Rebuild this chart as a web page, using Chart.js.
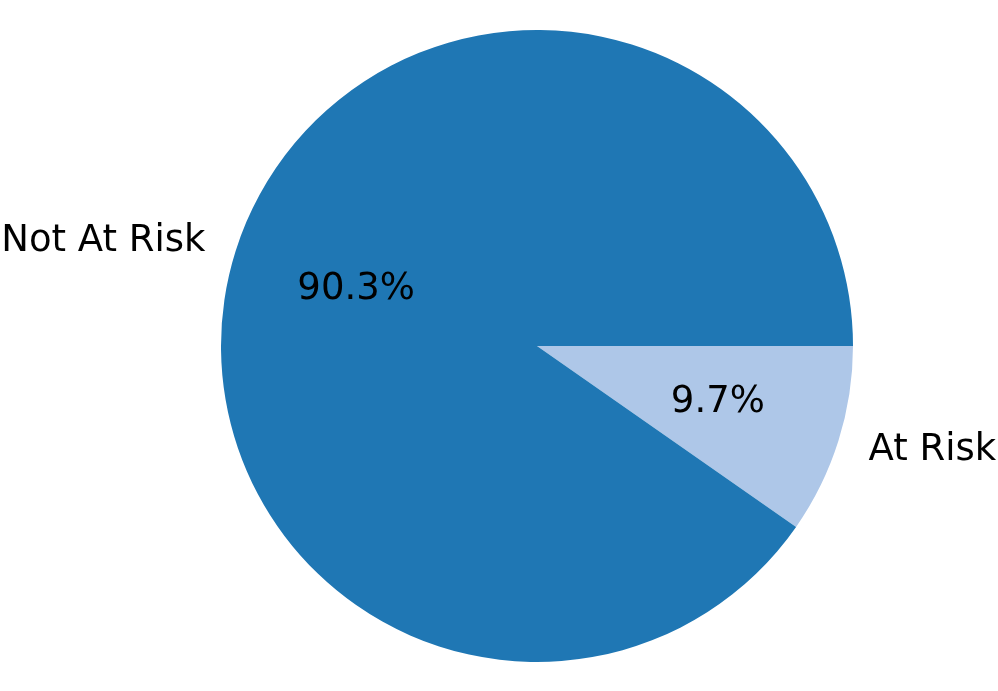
<!DOCTYPE html>
<html>
<head>
<meta charset="utf-8">
<style>
  html, body { margin: 0; padding: 0; background: #ffffff; }
  #wrap { width: 998px; height: 691px; }
</style>
<script src="https://cdn.jsdelivr.net/npm/chart.js@4/dist/chart.umd.min.js"></script>
</head>
<body>
<div id="wrap"><canvas id="pie" width="998" height="691"></canvas></div>
<script>
// Data (drawn clockwise from 3 o'clock)
const categories = ['At Risk', 'Not At Risk'];
const shares = [9.7, 90.3];
const sliceColors = ['#aec7e8', '#1f77b4'];

// Draws outer category labels and inner percentage labels, matplotlib style
const pieLabels = {
  id: 'pieLabels',
  afterDatasetsDraw(chart) {
    const ctx = chart.ctx;
    const meta = chart.getDatasetMeta(0);
    const total = shares.reduce((a, b) => a + b, 0);
    ctx.save();
    ctx.font = '37px "DejaVu Sans", sans-serif';
    ctx.fillStyle = '#000000';
    ctx.textBaseline = 'middle';
    meta.data.forEach((arc, i) => {
      const mid = (arc.startAngle + arc.endAngle) / 2;
      const r = arc.outerRadius;
      const c = Math.cos(mid), s = Math.sin(mid);
      // category label at 1.1 r
      ctx.textAlign = c >= 0 ? 'left' : 'right';
      ctx.fillText(categories[i], arc.x + 1.1 * r * c, arc.y + 1.1 * r * s);
      // percentage at 0.6 r
      ctx.textAlign = 'center';
      const pct = (shares[i] / total * 100).toFixed(1) + '%';
      ctx.fillText(pct, arc.x + 0.6 * r * c, arc.y + 0.6 * r * s);
    });
    ctx.restore();
  }
};

new Chart(document.getElementById('pie').getContext('2d'), {
  type: 'pie',
  data: {
    labels: categories,
    datasets: [{
      data: shares,
      backgroundColor: sliceColors,
      borderWidth: 0
    }]
  },
  options: {
    responsive: false,
    animation: false,
    rotation: 90,
    layout: { padding: { left: 221, right: 145, top: 30, bottom: 29 } },
    plugins: {
      legend: { display: false },
      tooltip: { enabled: false }
    }
  },
  plugins: [pieLabels]
});
</script>
</body>
</html>
